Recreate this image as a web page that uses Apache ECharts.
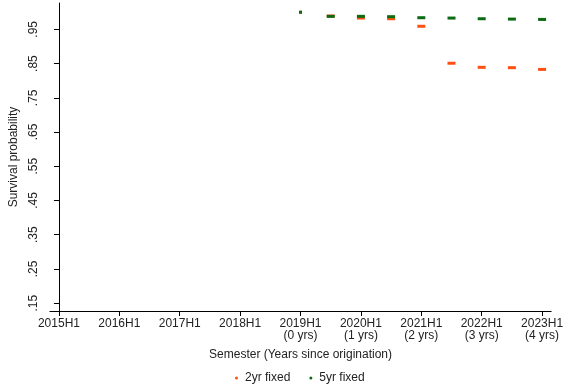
<!DOCTYPE html>
<html>
<head>
<meta charset="utf-8">
<script src="https://cdn.jsdelivr.net/npm/echarts@6/dist/echarts.min.js"></script>
<style>
  html, body { margin: 0; padding: 0; background: #fff; }
  #chart { width: 566px; height: 390px; }
</style>
</head>
<body>
<div id="chart"></div>
<script>
// Semester index: 0 = 2015H1, ... 16 = 2023H1
const xTickPositions = [0, 2, 4, 6, 8, 10, 12, 14, 16];
const xTickLabels = [
  '2015H1', '2016H1', '2017H1', '2018H1',
  '2019H1\n(0 yrs)', '2020H1\n(1 yrs)', '2021H1\n(2 yrs)',
  '2022H1\n(3 yrs)', '2023H1\n(4 yrs)'
];
const yTickValues = [0.15, 0.25, 0.35, 0.45, 0.55, 0.65, 0.75, 0.85, 0.95];
const yTickLabels = ['.15', '.25', '.35', '.45', '.55', '.65', '.75', '.85', '.95'];

const semesters = [8, 9, 10, 11, 12, 13, 14, 15, 16];
const fixed2yr = [1.000, 0.989, 0.983, 0.981, 0.959, 0.851, 0.839, 0.838, 0.833];
const fixed5yr = [1.000, 0.988, 0.988, 0.987, 0.984, 0.983, 0.981, 0.980, 0.979];

const ORANGE = '#ff5014';
const GREEN = '#0a6b12';
const FONT = 'Liberation Sans, Arial, sans-serif';

function pairs(xs, ys) { return xs.map((x, i) => [x, ys[i]]); }

const chart = echarts.init(document.getElementById('chart'), null, { renderer: 'canvas' });

const markerSize = (v, p) => (p.dataIndex === 0 ? [3, 3] : [8, 3]);

chart.setOption({
  animation: false,
  backgroundColor: '#fff',
  textStyle: { fontFamily: FONT, color: '#222' },
  grid: { left: 44, top: 3, right: 9, bottom: 79, containLabel: false },
  xAxis: {
    type: 'value',
    min: -0.3,
    max: 16.3,
    splitLine: { show: false },
    axisLine: { lineStyle: { color: '#000', width: 1 } },
    axisTick: { show: true, length: 5, customValues: xTickPositions, lineStyle: { color: '#000' } },
    axisLabel: {
      customValues: xTickPositions,
      margin: 7,
      fontSize: 12,
      lineHeight: 12,
      color: '#222',
      fontFamily: FONT,
      formatter: v => xTickLabels[xTickPositions.indexOf(Math.round(v))] || ''
    },
    name: 'Semester (Years since origination)',
    nameLocation: 'middle',
    nameGap: 38,
    nameTextStyle: { fontSize: 12, color: '#222', fontFamily: FONT }
  },
  yAxis: {
    type: 'value',
    min: 0.127,
    max: 1.027,
    splitLine: { show: false },
    axisLine: { show: true, lineStyle: { color: '#000', width: 1 } },
    axisTick: { show: true, length: 5, customValues: yTickValues, lineStyle: { color: '#000' } },
    axisLabel: {
      customValues: yTickValues,
      rotate: 90,
      margin: 10,
      fontSize: 12,
      color: '#222',
      fontFamily: FONT,
      formatter: v => {
        const i = yTickValues.findIndex(t => Math.abs(t - v) < 1e-6);
        return i >= 0 ? yTickLabels[i] : '';
      }
    },
    name: 'Survival probability',
    nameLocation: 'middle',
    nameGap: 25,
    nameTextStyle: { fontSize: 12, color: '#222', fontFamily: FONT }
  },
  legend: {
    left: 230,
    bottom: 1,
    itemWidth: 7,
    itemHeight: 3,
    itemGap: 19,
    icon: 'circle',
    textStyle: { fontSize: 12, color: '#222', fontFamily: FONT },
    data: ['2yr fixed', '5yr fixed']
  },
  series: [
    {
      name: '2yr fixed',
      type: 'scatter',
      symbol: 'rect',
      symbolSize: markerSize,
      itemStyle: { color: ORANGE, opacity: 1 },
      data: pairs(semesters, fixed2yr)
    },
    {
      name: '5yr fixed',
      type: 'scatter',
      symbol: 'rect',
      symbolSize: markerSize,
      itemStyle: { color: GREEN, opacity: 1 },
      data: pairs(semesters, fixed5yr)
    }
  ]
});
</script>
</body>
</html>
